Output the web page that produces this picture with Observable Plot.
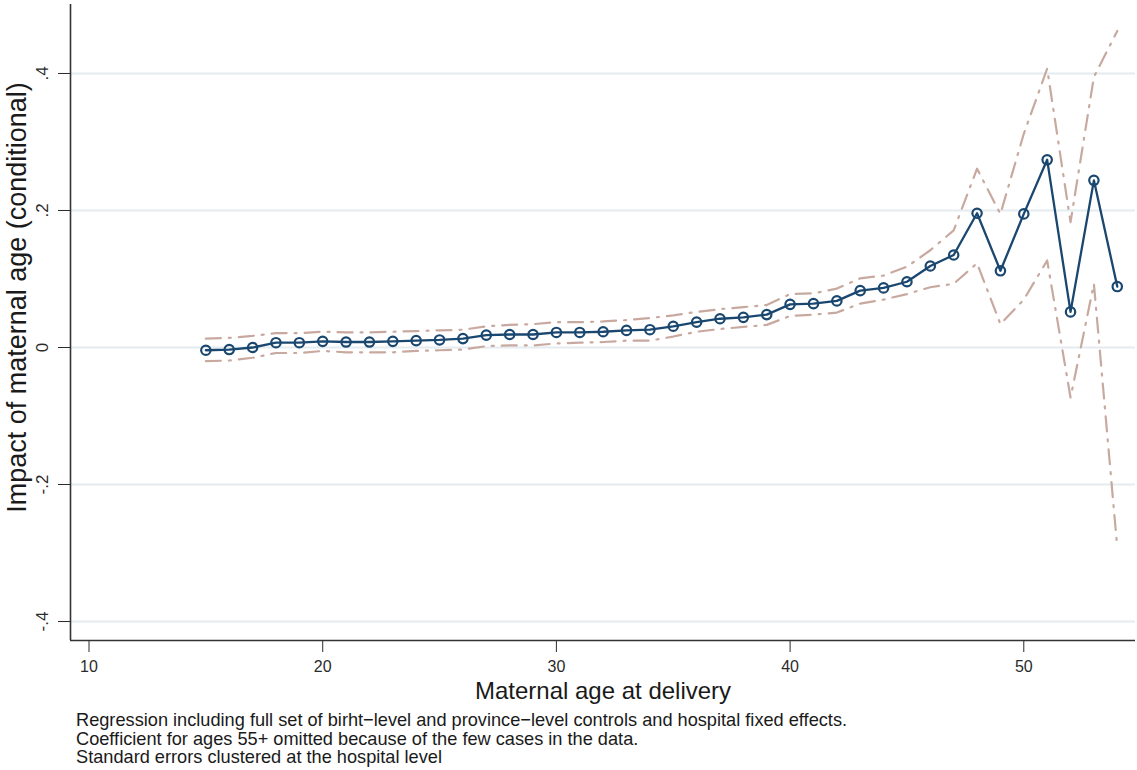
<!DOCTYPE html>
<html>
<head>
<meta charset="utf-8">
<script src="https://cdn.jsdelivr.net/npm/d3@7"></script>
<script src="https://cdn.jsdelivr.net/npm/@observablehq/plot@0.6"></script>
<style>
  body { margin: 0; background: #fff; font-family: "Liberation Sans", Arial, Helvetica, sans-serif; }
  #chart svg { display: block; }
  #notes { margin: 6px 0 0 76px; font-size: 18.2px; line-height: 18.6px; color: #1a1a1a; }
</style>
</head>
<body>
<div id="chart"></div>
<div id="notes"></div>
<script>
// Maternal age at delivery (years)
const ages = [15, 16, 17, 18, 19, 20, 21, 22, 23, 24, 25, 26, 27, 28, 29, 30, 31, 32, 33, 34,
              35, 36, 37, 38, 39, 40, 41, 42, 43, 44, 45, 46, 47, 48, 49, 50, 51, 52, 53, 54];

// Point estimates of the age effect
const coef = [-0.004, -0.003, 0.000, 0.007, 0.007, 0.009, 0.008, 0.008, 0.009, 0.010,
              0.011, 0.013, 0.018, 0.019, 0.019, 0.022, 0.022, 0.023, 0.025, 0.026,
              0.031, 0.037, 0.042, 0.044, 0.048, 0.063, 0.064, 0.068, 0.083, 0.087,
              0.096, 0.119, 0.135, 0.196, 0.112, 0.195, 0.274, 0.052, 0.244, 0.089];

// 95% confidence bounds
const ciLow = [-0.020, -0.019, -0.015, -0.008, -0.008, -0.005, -0.007, -0.007, -0.007, -0.005,
               -0.004, -0.003, 0.002, 0.003, 0.003, 0.006, 0.007, 0.008, 0.010, 0.010,
               0.016, 0.023, 0.027, 0.030, 0.033, 0.046, 0.048, 0.051, 0.064, 0.070,
               0.078, 0.088, 0.093, 0.123, 0.034, 0.070, 0.127, -0.073, 0.093, -0.292];
const ciHigh = [0.013, 0.014, 0.017, 0.021, 0.021, 0.023, 0.022, 0.022, 0.023, 0.024,
                0.025, 0.026, 0.031, 0.033, 0.034, 0.037, 0.037, 0.038, 0.040, 0.043,
                0.047, 0.052, 0.056, 0.059, 0.062, 0.078, 0.079, 0.086, 0.101, 0.105,
                0.118, 0.142, 0.171, 0.261, 0.195, 0.312, 0.407, 0.183, 0.395, 0.462];

// Axis ticks and labels
const xTicks = [10, 20, 30, 40, 50];
const yTicks = [-0.4, -0.2, 0, 0.2, 0.4];
const yTickLabels = ["-.4", "-.2", "0", ".2", ".4"];

const xTitle = "Maternal age at delivery";
const yTitle = "Impact of maternal age (conditional)";
const notes = [
  "Regression including full set of birht\u2212level and province\u2212level controls and hospital fixed effects.",
  "Coefficient for ages 55+ omitted because of the few cases in the data.",
  "Standard errors clustered at the hospital level"
];

const rows = ages.map((age, i) => ({age, b: coef[i], lo: ciLow[i], hi: ciHigh[i]}));

const navy = "#1a476f";
const ciColor = "#c8a9a0";
const xDomain = [9.208, 54.78];
const yDomain = [-0.4277, 0.5007];

const chart = Plot.plot({
  width: 1137,
  height: 705,
  marginLeft: 70,
  marginRight: 2,
  marginTop: 4,
  marginBottom: 65,
  style: {fontFamily: "'Liberation Sans', Arial, Helvetica, sans-serif", background: "#fff", color: "#2b2b2b", overflow: "visible"},
  x: {domain: xDomain},
  y: {domain: yDomain},
  marks: [
    Plot.gridY(yTicks, {stroke: "#e4ecf0", strokeOpacity: 1, strokeWidth: 2}),
    Plot.line(rows, {x: "age", y: "hi", stroke: ciColor, strokeWidth: 2.2, strokeDasharray: "15,8,2,8"}),
    Plot.line(rows, {x: "age", y: "lo", stroke: ciColor, strokeWidth: 2.2, strokeDasharray: "15,8,2,8"}),
    Plot.line(rows, {x: "age", y: "b", stroke: navy, strokeWidth: 2.3}),
    Plot.dot(rows, {x: "age", y: "b", r: 4.7, stroke: navy, strokeWidth: 2.2, fill: "none"}),
    Plot.axisY(yTicks, {
      tickSize: 12, tickPadding: 11, tickRotate: -90, fontSize: 17, label: null,
      tickFormat: d => yTickLabels[yTicks.indexOf(d)]
    }),
    Plot.axisX(xTicks, {tickSize: 12, tickPadding: 8, fontSize: 16, label: null}),
    Plot.ruleX([xDomain[0]], {stroke: "#333", strokeWidth: 1.6}),
    Plot.ruleY([yDomain[0]], {stroke: "#333", strokeWidth: 1.6}),
    Plot.text([xTitle], {frameAnchor: "bottom", dy: 58, lineAnchor: "bottom", fontSize: 24, fill: "#1a1a1a"}),
    Plot.text([yTitle], {frameAnchor: "left", textAnchor: "middle", dx: -53, dy: -25, rotate: -90, fontSize: 27, fill: "#1a1a1a"})
  ]
});

document.getElementById("chart").appendChild(chart);
const notesEl = document.getElementById("notes");
for (const line of notes) {
  const div = document.createElement("div");
  div.textContent = line;
  notesEl.appendChild(div);
}
</script>
</body>
</html>
